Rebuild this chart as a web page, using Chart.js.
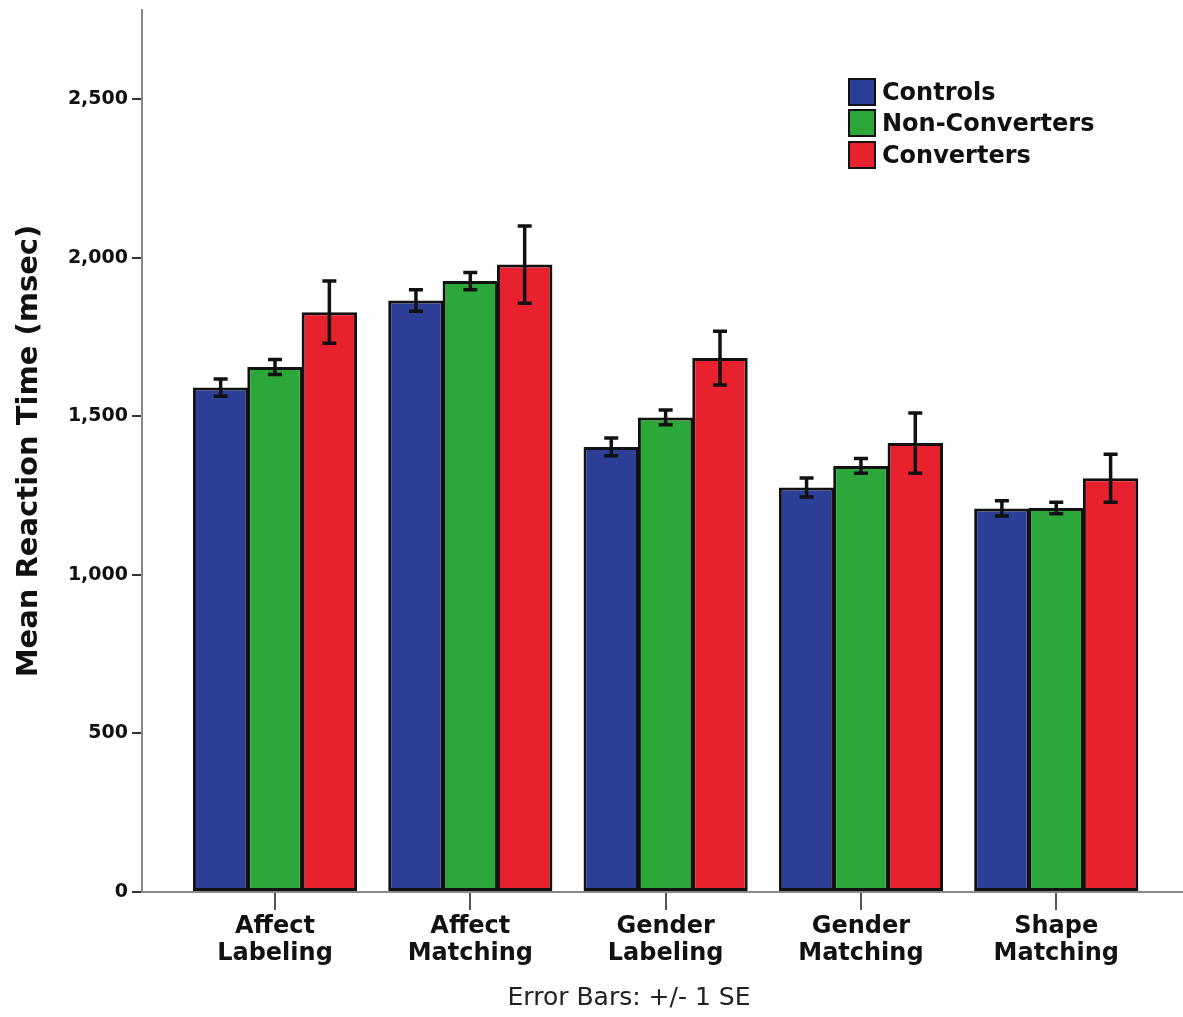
<!DOCTYPE html>
<html>
<head>
<meta charset="utf-8">
<script src="https://cdn.jsdelivr.net/npm/chart.js@4.4.1/dist/chart.umd.min.js"></script>
<style>
    html, body { margin: 0; padding: 0; background: #fff; }
    #wrap { position: relative; width: 1183px; height: 1017px; }
    #legend { position: absolute; left: 848px; top: 76px; font: bold 24px "DejaVu Sans", sans-serif; color: #111; }
    .legend-item { display: flex; align-items: center; height: 31.5px; }
    .legend-box { width: 24px; height: 24px; border: 2.5px solid #111; margin-right: 6px; }
</style>
</head>
<body>
<div id="wrap">
    <canvas id="rtChart" width="1183" height="1017"></canvas>
    <div id="legend"></div>
</div>
<script>
// --- data ---
const categories = [['Affect', 'Labeling'], ['Affect', 'Matching'], ['Gender', 'Labeling'], ['Gender', 'Matching'], ['Shape', 'Matching']];
const groupNames = ['Controls', 'Non-Converters', 'Converters'];

const controlsMean = [1591, 1866, 1404, 1276, 1210];
const controlsSE = [27, 34, 28, 30, 24];
const nonConvMean = [1656, 1927, 1497, 1344, 1211];
const nonConvSE = [24, 27, 23, 23, 18];
const convMean = [1829, 1979, 1684, 1416, 1305];
const convSE = [98, 122, 85, 95, 76];

const yTicks = [0, 500, 1000, 1500, 2000, 2500];
const xNote = 'Error Bars: +/- 1 SE';

const groupColors = ['#2c3f97', '#2ca83a', '#e8212f'];
const FONT = '"DejaVu Sans", sans-serif';

// legend (html, top right)
const legendEl = document.getElementById('legend');
groupNames.forEach((name, i) => {
    legendEl.innerHTML += `
        <div class="legend-item">
            <div class="legend-box" style="background:${groupColors[i]};"></div>${name}
        </div>`;
});

// draws +/- 1 SE whiskers on each bar
const errorBarPlugin = {
    id: 'errorBars',
    afterDatasetsDraw(chart) {
        const ctx = chart.ctx;
        const yScale = chart.scales.y;
        ctx.save();
        ctx.strokeStyle = '#111';
        ctx.lineWidth = 3.5;
        chart.data.datasets.forEach((ds, di) => {
            const meta = chart.getDatasetMeta(di);
            meta.data.forEach((bar, i) => {
                const top = yScale.getPixelForValue(ds.data[i] + ds.se[i]);
                const bot = yScale.getPixelForValue(ds.data[i] - ds.se[i]);
                const half = 7;
                ctx.beginPath();
                ctx.moveTo(bar.x, top); ctx.lineTo(bar.x, bot);
                ctx.moveTo(bar.x - half, top); ctx.lineTo(bar.x + half, top);
                ctx.moveTo(bar.x - half, bot); ctx.lineTo(bar.x + half, bot);
                ctx.stroke();
            });
        });
        ctx.restore();
    },
    afterDraw(chart) {
        const ctx = chart.ctx;
        ctx.save();
        ctx.font = '25px ' + FONT;
        ctx.fillStyle = '#222';
        ctx.textAlign = 'center';
        ctx.textBaseline = 'middle';
        ctx.fillText(xNote, 629, 998);
        ctx.restore();
    }
};

const means = [controlsMean, nonConvMean, convMean];
const ses = [controlsSE, nonConvSE, convSE];

new Chart(document.getElementById('rtChart'), {
    type: 'bar',
    data: {
        labels: categories,
        datasets: groupNames.map((name, i) => ({
            label: name,
            data: means[i],
            se: ses[i],
            backgroundColor: groupColors[i],
            borderColor: '#111',
            borderWidth: 3,
            borderSkipped: false
        }))
    },
    options: {
        responsive: false,
        animation: false,
        layout: { padding: { top: 10, right: 0, left: 0, bottom: 0 } },
        datasets: {
            bar: { categoryPercentage: 0.835, barPercentage: 1.02 }
        },
        plugins: {
            legend: { display: false },
            tooltip: { enabled: false }
        },
        scales: {
            x: {
                afterBuildTicks: scale => {
                    // extra room on both sides of the groups, like the figure
                    scale._startValue = -0.681;
                    scale._valueRange = 5.33;
                },
                afterFit: scale => { scale.height = 125; },
                grid: { drawOnChartArea: false, offset: false, tickLength: 18, color: '#555', lineWidth: 2 },
                border: { color: '#888', width: 2 },
                ticks: { color: '#111', padding: 4, font: { family: FONT, size: 24, weight: 'bold', lineHeight: 1.1 } }
            },
            y: {
                min: 0,
                max: 2782,
                afterBuildTicks: scale => { scale.ticks = yTicks.map(v => ({ value: v })); },
                afterFit: scale => {
                    scale.width = 142;
                    scale.paddingTop = 10;
                },
                grid: { drawOnChartArea: false, tickLength: 10, color: '#333', lineWidth: 2 },
                border: { color: '#888', width: 2 },
                ticks: {
                    color: '#111',
                    padding: 4,
                    font: { family: FONT, size: 19, weight: 'bold' },
                    callback: v => v.toLocaleString('en-US')
                },
                title: {
                    display: true,
                    text: 'Mean Reaction Time (msec)',
                    color: '#111',
                    padding: { top: 12, bottom: 0 },
                    font: { family: FONT, size: 29, weight: 'bold' }
                }
            }
        }
    },
    plugins: [errorBarPlugin]
});
</script>
</body>
</html>
